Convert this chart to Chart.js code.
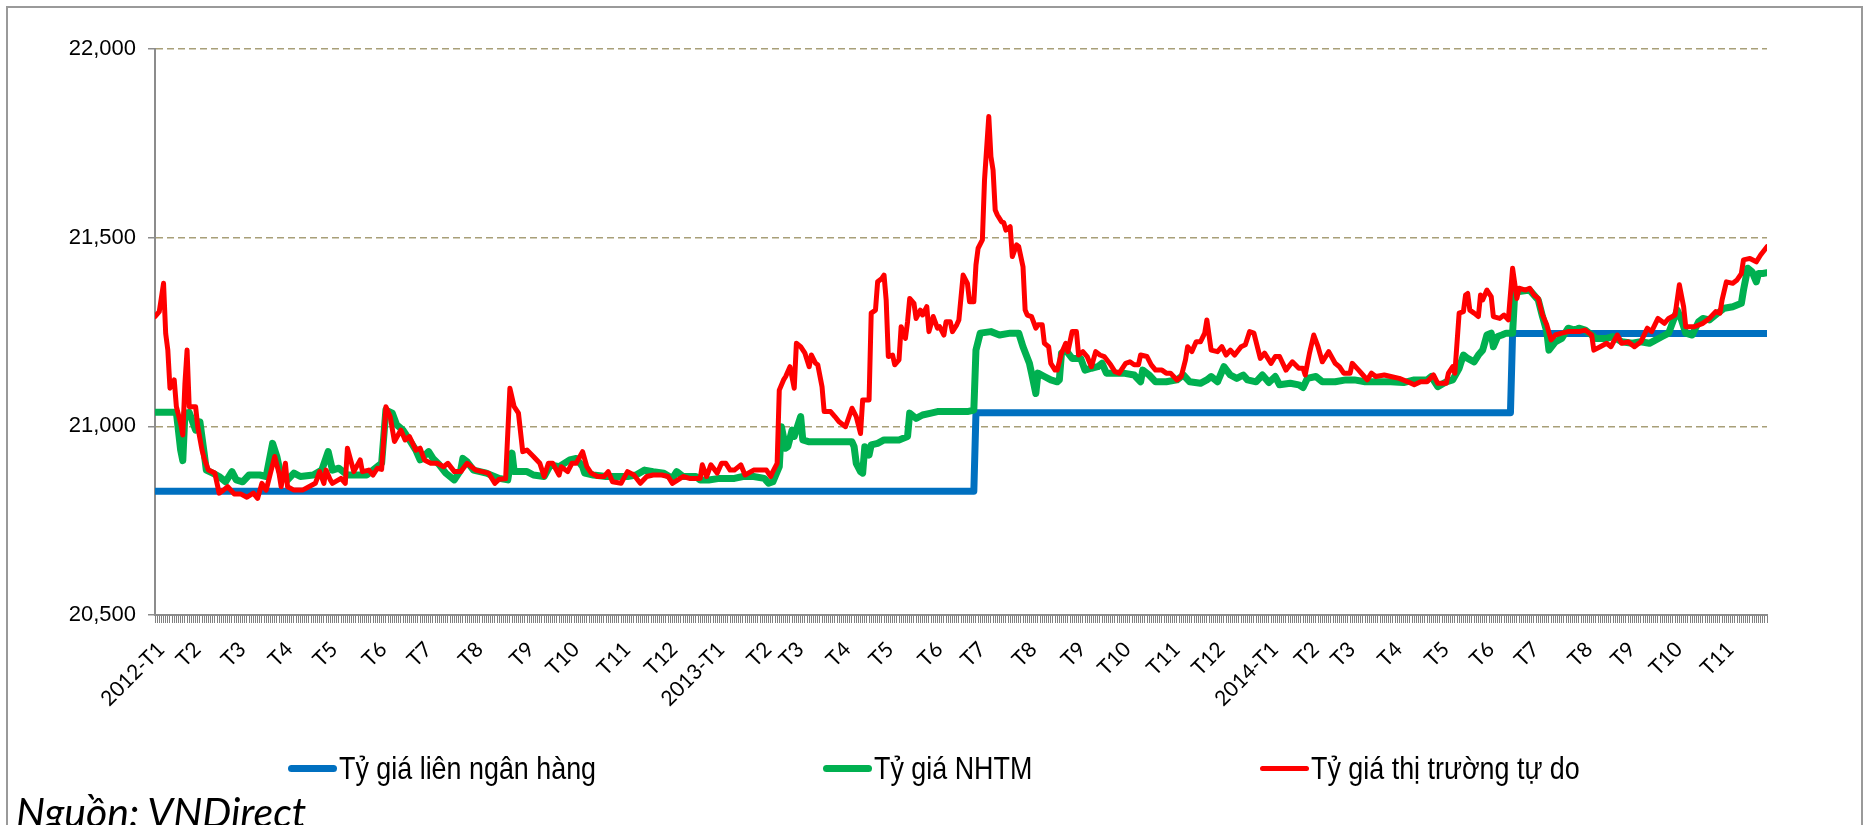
<!DOCTYPE html>
<html lang="vi">
<head>
<meta charset="UTF-8">
<title>Tỷ giá USD/VND</title>
<style>
  html, body { margin: 0; padding: 0; background: #fff; }
  body { width: 1864px; height: 825px; position: relative; overflow: hidden; }
  #frame { position: absolute; left: 6px; top: 6px; width: 1857px; height: 900px; border: 2px solid #9a9a9a; box-sizing: border-box; }
  #chart { position: absolute; left: 0; top: 0; }
  #legend .item { position: absolute; top: 749px; height: 38px; display: flex; align-items: center; }
  #legend .line { width: 49px; height: 7px; border-radius: 4px; margin-right: 2px; flex: none; }
  #legend .txt { font: 32px 'Liberation Sans', Arial, sans-serif; transform: scaleX(0.84); transform-origin: left center; white-space: nowrap; color: #000; }
  #source { position: absolute; left: 16px; top: 787px; font: italic 41px Lato, sans-serif; color: #000; white-space: nowrap; }
</style>
</head>
<body>
<div id="frame"></div>
<canvas id="chart" width="1864" height="825"></canvas>
<div id="legend"></div>
<div id="source">Nguồn: VNDirect</div>

<script src="https://cdn.jsdelivr.net/npm/chart.js"></script>
<script>
// trục hoành: số thứ tự ngày giao dịch, nhãn đặt ở ngày đầu mỗi tháng
const monthLabels = ['2012-T1','T2','T3','T4','T5','T6','T7','T8','T9','T10','T11','T12',
                     '2013-T1','T2','T3','T4','T5','T6','T7','T8','T9','T10','T11','T12',
                     '2014-T1','T2','T3','T4','T5','T6','T7','T8','T9','T10','T11'];
const monthStartDay = [0,17,38,60,81,104,125,149,173,194,218,240,
                       262,284,299,321,341,364,384,408,431,452,475,496,
                       521,540,557,579,601,622,643,668,688,710,734];
const lastDay = 754;
const yTicks = [20500, 21000, 21500, 22000];

// Tỷ giá liên ngân hàng
const interbankDay  = [0, 383, 384, 634, 635, 754];
const interbankRate = [20828, 20828, 21036, 21036, 21246, 21246];

// Tỷ giá NHTM
const nhtmDay = [0,10,12,13,14,16,19,21,23,24,27,30,33,36,38,41,44,49,52,55,57,59,62,65,68,74,78,81,83,86,90,96,99,102,106,
  108,111,113,116,119,122,124,128,130,133,136,140,143,144,146,149,155,161,165,167,168,174,177,182,
  185,189,194,197,200,201,205,211,216,221,225,229,233,238,242,244,247,253,
  255,259,264,271,275,280,285,287,289,292,293,295,296,298,299,302,303,306,314,320,326,327,328,330,331,332,334,335,338,341,345,348,352,
  353,356,359,363,366,374,380,383,384,386,391,395,400,404,406,409,410,412,413,416,419,422,423,424,426,429,433,435,438,441,443,445,
  448,453,458,461,462,465,468,473,478,481,484,489,492,494,497,500,503,506,509,511,515,518,521,524,526,531,535,537,539,543,546,552,
  557,561,566,573,578,584,589,595,597,600,604,607,610,612,614,617,619,621,623,625,626,628,630,632,635,636,638,643,647,649,651,652,
  655,658,661,664,666,669,672,674,679,682,686,691,695,699,702,705,708,712,714,716,719,722,724,727,731,734,738,742,743,745,747,749,750,752,754];
const nhtmRate = [21037,21037,20937,20909,21035,21037,20990,21012,20929,20884,20876,20867,20853,20880,20858,20853,20871,20871,20867,20955,20920,20867,20858,20876,20867,20871,20884,20933,20884,20889,20871,20871,20871,20884,20902,
  21043,21035,21004,20990,20964,20937,20911,20933,20915,20898,20876,20858,20884,20915,20906,20884,20876,20862,20858,20929,20880,20880,20871,20867,
  20898,20893,20911,20915,20893,20876,20871,20867,20867,20867,20871,20884,20880,20876,20862,20880,20867,20867,
  20858,20858,20862,20862,20867,20867,20862,20849,20853,20893,20999,20942,20946,20990,20973,21026,20964,20959,20959,20959,20959,20946,20902,20880,20876,20946,20924,20951,20955,20964,20964,20964,20973,
  21035,21021,21030,21035,21039,21039,21039,21043,21202,21247,21251,21242,21247,21247,21211,21167,21141,21087,21141,21132,21123,21118,21123,21194,21202,21180,21180,21149,21154,21158,21167,21141,
  21141,21141,21136,21118,21149,21136,21118,21118,21123,21136,21118,21114,21123,21132,21118,21158,21136,21127,21136,21123,21118,21136,21116,21132,21110,21114,21110,21103,21127,21132,21118,21118,
  21123,21123,21118,21118,21118,21116,21123,21123,21132,21105,21118,21123,21154,21189,21180,21171,21189,21202,21242,21247,21211,21238,21242,21247,21247,21352,21357,21361,21335,21291,21251,21202,
  21224,21233,21260,21255,21260,21255,21242,21233,21233,21238,21224,21220,21224,21220,21229,21238,21247,21308,21282,21247,21242,21277,21286,21282,21300,21313,21317,21326,21361,21419,21410,21383,21405,21405,21407];

// Tỷ giá thị trường tự do
const freeDay = [0,2,4,5,6,7,9,10,12,13,14,15,16,19,20,22,23,25,28,30,32,34,37,40,43,46,48,50,52,54,56,58,59,61,62,65,69,72,75,77,79,80,82,83,87,89,90,93,96,97,
  100,102,104,106,108,110,112,115,117,119,122,124,126,129,132,135,137,140,143,146,150,153,156,159,161,164,166,168,170,172,174,177,180,182,184,186,189,190,193,195,197,
  200,202,204,207,210,212,214,218,221,224,227,230,233,237,240,242,247,250,255,256,258,260,263,265,267,269,271,274,276,280,286,288,289,291,292,294,295,297,299,
  300,302,304,306,307,309,310,312,313,316,318,320,323,326,328,330,331,334,335,337,338,340,341,342,343,345,346,348,349,351,352,353,355,356,358,359,361,362,364,366,367,369,370,372,373,375,376,378,380,381,383,
  384,385,387,388,390,391,392,393,394,396,397,398,400,401,403,404,406,407,408,410,412,413,415,416,418,419,421,422,424,426,427,429,431,432,434,436,438,440,442,444,447,449,451,454,456,458,460,461,464,466,468,471,473,475,478,480,482,483,485,487,
  489,491,492,494,497,499,501,503,505,508,510,512,514,517,519,522,524,526,529,532,535,537,538,540,542,544,546,549,552,554,556,559,560,563,565,567,569,571,575,578,582,586,589,592,595,598,
  600,604,605,607,608,610,612,613,614,615,617,619,620,621,623,625,626,629,631,633,635,637,638,641,643,645,647,649,651,653,655,658,661,664,666,669,672,673,676,679,681,684,686,689,692,695,698,
  700,703,706,708,711,713,715,716,720,724,727,730,732,733,735,738,740,742,743,746,749,751,754];
const freeRate = [21291,21304,21379,21246,21202,21101,21123,21052,21008,20977,21114,21202,21052,21052,20999,20937,20915,20884,20876,20823,20831,20840,20821,20821,20812,20823,20809,20849,20831,20876,20920,20876,20840,20902,20840,20831,20831,20840,20849,20880,20849,20884,20858,20849,20862,20849,20942,20880,20911,20880,
  20884,20871,20889,20886,21052,21026,20960,20990,20964,20973,20937,20942,20911,20902,20902,20893,20902,20880,20880,20902,20884,20880,20876,20849,20860,20861,21101,21052,21035,20933,20937,20920,20902,20867,20902,20902,20871,20893,20880,20902,20902,
  20933,20893,20876,20867,20867,20880,20853,20849,20880,20871,20849,20867,20871,20871,20867,20849,20867,20862,20862,20898,20867,20898,20876,20902,20902,20884,20884,20898,20871,20884,20884,20867,20880,20902,21096,21123,21132,21158,21101,
  21220,21211,21194,21158,21189,21167,21163,21105,21039,21039,21026,21012,20999,21048,21026,20981,21070,21070,21300,21308,21383,21392,21401,21335,21185,21189,21163,21176,21264,21233,21277,21339,21326,21286,21308,21295,21317,21251,21291,21260,21264,21242,21277,21277,21251,21269,21282,21401,21379,21330,21330,
  21428,21472,21494,21653,21821,21715,21679,21573,21560,21542,21540,21520,21529,21450,21481,21476,21423,21308,21295,21291,21260,21269,21269,21220,21211,21167,21149,21149,21194,21220,21198,21251,21251,21189,21198,21185,21158,21198,21189,21185,21163,21145,21141,21167,21171,21163,21163,21189,21185,21163,21149,21149,21141,21141,21123,21132,21176,21211,21198,21224,
  21224,21247,21282,21202,21198,21211,21189,21202,21189,21211,21216,21251,21247,21180,21194,21167,21185,21185,21149,21171,21154,21154,21136,21194,21242,21211,21171,21198,21167,21158,21141,21141,21167,21149,21136,21123,21141,21132,21136,21132,21127,21118,21110,21118,21118,21136,
  21114,21114,21141,21158,21141,21300,21304,21348,21352,21308,21300,21291,21348,21335,21361,21344,21291,21286,21295,21282,21419,21339,21366,21361,21366,21348,21339,21295,21269,21229,21242,21247,21251,21251,21251,21255,21242,21202,21211,21220,21211,21242,21220,21224,21211,21224,21260,
  21251,21286,21273,21286,21295,21375,21317,21264,21264,21273,21286,21304,21300,21335,21383,21379,21388,21405,21441,21445,21436,21454,21476];

function toPoints(days, rates) {
  return days.map((d, i) => ({ x: d, y: rates[i] }));
}

const gray = '#8c8c8c';

const canvas = document.getElementById('chart');
const chart = new Chart(canvas, {
  type: 'line',
  data: {
    datasets: [
      { label: 'Tỷ giá liên ngân hàng', data: toPoints(interbankDay, interbankRate), borderColor: '#0070C0', borderWidth: 7, order: 2 },
      { label: 'Tỷ giá NHTM', data: toPoints(nhtmDay, nhtmRate), borderColor: '#00B050', borderWidth: 7, order: 1 },
      { label: 'Tỷ giá thị trường tự do', data: toPoints(freeDay, freeRate), borderColor: '#FF0000', borderWidth: 5, order: 0 }
    ]
  },
  options: {
    responsive: false,
    animation: false,
    layout: { padding: { left: 0, top: 49, right: 97, bottom: 0 } },
    plugins: { legend: { display: false }, tooltip: { enabled: false } },
    elements: {
      point: { radius: 0 },
      line: { tension: 0, borderJoinStyle: 'round', borderCapStyle: 'round' }
    },
    scales: {
      x: {
        type: 'linear',
        min: 0,
        max: lastDay,
        afterFit: s => { s.height = 210; },
        border: { color: gray, width: 2 },
        grid: { drawOnChartArea: false, tickLength: 8, tickColor: '#808080', tickWidth: 1 },
        ticks: {
          stepSize: 1,
          autoSkip: false,
          minRotation: 45,
          maxRotation: 45,
          padding: 14,
          labelOffset: 6,
          color: '#000',
          font: { family: 'Lato', size: 21 },
          callback: v => {
            const i = monthStartDay.indexOf(v);
            return i < 0 ? '' : monthLabels[i];
          }
        }
      },
      y: {
        min: yTicks[0],
        max: yTicks[yTicks.length - 1],
        afterFit: s => { s.width = 155; },
        afterBuildTicks: s => { s.ticks = yTicks.map(v => ({ value: v })); },
        border: { color: gray, width: 2, dash: [7, 4] },
        grid: {
          color: c => c.tick && c.tick.value === yTicks[0] ? 'rgba(0,0,0,0)' : '#a89f78',
          lineWidth: 1.5,
          tickLength: 7,
          tickColor: gray,
          tickWidth: 1.5,
          tickBorderDash: []
        },
        ticks: {
          padding: 12,
          color: '#000',
          font: { family: "'Liberation Sans', Arial, sans-serif", size: 22 },
          callback: v => v.toLocaleString('en-US')
        }
      }
    }
  }
});

// chú thích
const legendLeft = [288, 823, 1260];
const legend = document.getElementById('legend');
chart.data.datasets.forEach((ds, i) => {
  const item = document.createElement('div');
  item.className = 'item';
  item.style.left = legendLeft[i] + 'px';
  const line = document.createElement('span');
  line.className = 'line';
  line.style.background = ds.borderColor;
  line.style.height = ds.borderWidth + 'px';
  const txt = document.createElement('span');
  txt.className = 'txt';
  txt.textContent = ds.label;
  item.appendChild(line);
  item.appendChild(txt);
  legend.appendChild(item);
});
</script>
</body>
</html>
